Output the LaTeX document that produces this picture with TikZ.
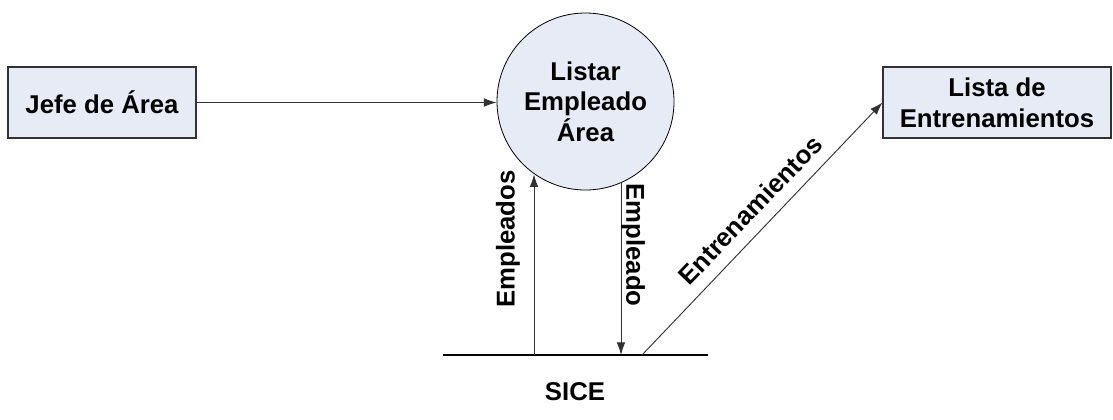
\documentclass[tikz,border=0pt]{standalone}
\usepackage{fontspec}
\setmainfont{Liberation Sans}
\usetikzlibrary{arrows.meta}
\definecolor{boxfill}{RGB}{230,235,246}
\definecolor{lin}{RGB}{50,50,50}
\tikzset{
  txt/.style={font=\fontsize{19.3pt}{23pt}\selectfont\bfseries, text=black, align=center, inner sep=0pt},
  entity/.style={txt, draw=lin, fill=boxfill, line width=0.8pt, minimum width=141pt, minimum height=53.25pt},
  proc/.style={txt, circle, draw=black, fill=boxfill, line width=0.6pt, minimum size=132.75pt},
  flow/.style={draw=lin, line width=0.7pt, -{Latex[length=9.5pt,width=6.5pt]}},
  store/.style={draw=black, line width=0.8pt},
  lbl/.style={txt}
}
\begin{document}
\begin{tikzpicture}[x=0.75pt,y=-0.75pt]
\useasboundingbox (0,0) rectangle (1113,419);
\node[entity] (jefe) at (102,102.5) {Jefe de Área};
\node[proc] (proc) at (585.5,101.5) {Listar\\Empleado\\Área};
\node[entity, minimum width=171pt] (lista) at (997,102.5) {Lista de\\Entrenamientos};
\coordinate (sL) at (443,355);
\coordinate (sR) at (708,355);
\coordinate (s1) at (534,355);
\coordinate (s2) at (621,355);
\coordinate (s3) at (642,355);
\draw[store] (sL) -- (sR);
\node[txt] (sice) at (575,391.5) {SICE};
\draw[flow] (jefe.east) -- (proc.west |- jefe.east);
\draw[flow] (s1) -- (s1 |- proc.-125.6);
\draw[flow] (s2 |- proc.-66.4) -- (s2);
\draw[flow] (s3) -- (lista.west);
\node[lbl, rotate=90] (l1) at (508,239) {Empleados};
\node[lbl, rotate=-90] (l2) at (633,245) {Empleado};
\node[lbl, rotate=46.2] (l3) at (750,210) {Entrenamientos};
\end{tikzpicture}
\end{document}
